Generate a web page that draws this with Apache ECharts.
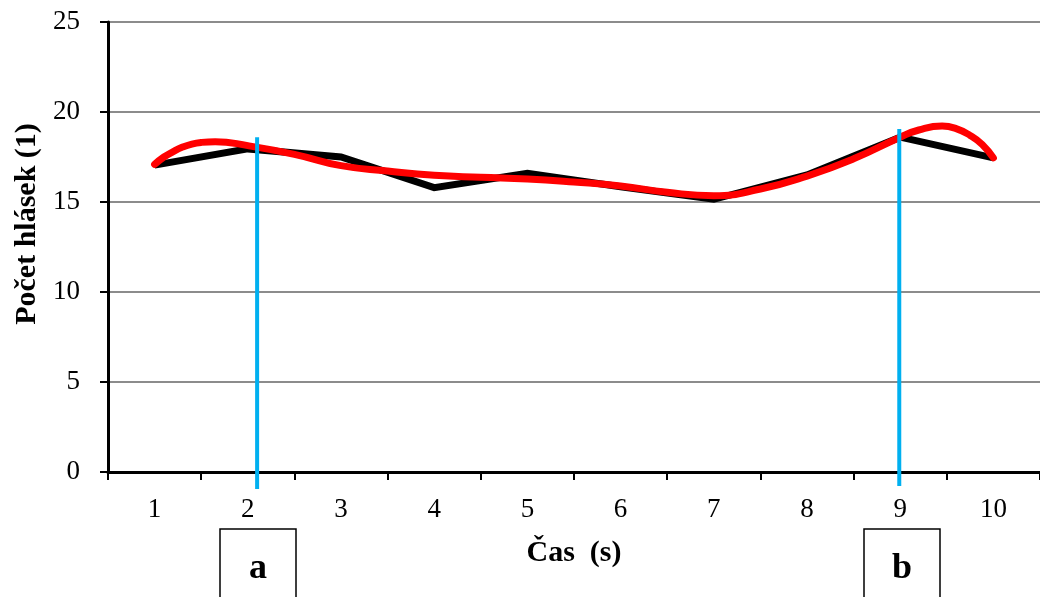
<!DOCTYPE html>
<html>
<head>
<meta charset="utf-8">
<script src="https://cdn.jsdelivr.net/npm/echarts@6/dist/echarts.min.js"></script>
<style>
html,body{margin:0;padding:0;background:#fff;}
#chart{width:1040px;height:597px;}
</style>
</head>
<body>
<div id="chart"></div>
<script>
// ---- data ----
const categories = ['1','2','3','4','5','6','7','8','9','10'];
const blackValues = [17.05, 17.95, 17.5, 15.8, 16.6, 15.85, 15.15, 16.5, 18.6, 17.45];
// smoothed red curve (x in category units)
const redX = [1, 1.1, 1.2, 1.3, 1.4, 1.5, 1.65, 2, 2.5, 3, 3.5, 4, 4.5, 5, 5.5, 6, 6.5, 7, 7.5, 8, 8.5, 9, 9.2, 9.45, 9.6, 9.75, 9.88, 10];
const redY = [17.09, 17.5, 17.8, 18.05, 18.22, 18.31, 18.35, 18.13, 17.65, 17.02, 16.72, 16.48, 16.37, 16.28, 16.11, 15.89, 15.54, 15.35, 15.72, 16.44, 17.4, 18.6, 19.0, 19.22, 19.08, 18.7, 18.2, 17.45];
// vertical blue markers
const markerX = [2.1, 8.99];
const markerTop = [18.6, 19.05];
const markerBottom = [-0.95, -0.78];
const markerLabels = ['a', 'b'];
const yTicks = [0, 5, 10, 15, 20, 25];
const yName = 'Počet hlásek (1)';
const xName = 'Čas  (s)';

const chart = echarts.init(document.getElementById('chart'), null, {renderer: 'canvas'});
const serif = '"Liberation Serif", "Times New Roman", serif';

const series = [
  {
    type: 'line', xAxisIndex: 0, data: blackValues,
    showSymbol: false, symbol: 'none',
    lineStyle: {color: '#000', width: 7, join: 'miter'},
    z: 2, animation: false
  },
  {
    type: 'line', xAxisIndex: 1, data: redX.map((x, i) => [x, redY[i]]),
    showSymbol: false, symbol: 'none', smooth: 0.5,
    lineStyle: {color: '#ff0000', width: 7, cap: 'round', join: 'round'},
    z: 3, animation: false
  }
];
markerX.forEach((x, i) => {
  series.push({
    type: 'line', xAxisIndex: 1, data: [[x, markerTop[i]], [x, markerBottom[i]]],
    showSymbol: false, symbol: 'none', clip: false,
    lineStyle: {color: '#00b0f0', width: 4},
    z: 4, animation: false
  });
});

const boxCenters = [258, 902];
const graphic = [];
boxCenters.forEach((cx, i) => {
  graphic.push({
    type: 'rect', shape: {x: cx - 38, y: 529, width: 76, height: 90},
    style: {fill: '#fff', stroke: '#000', lineWidth: 1.5}, z: 10
  });
  graphic.push({
    type: 'text', x: cx, y: 569,
    style: {text: markerLabels[i], font: 'bold 36px ' + serif, fill: '#000', align: 'center', verticalAlign: 'middle'},
    z: 11
  });
});
graphic.push({
  type: 'text', x: 27, y: 224, rotation: Math.PI / 2,
  style: {text: yName, font: 'bold 30px ' + serif, fill: '#000', align: 'center', verticalAlign: 'middle'},
  z: 11
});

chart.setOption({
  animation: false,
  backgroundColor: '#fff',
  grid: {left: 108, top: 22, width: 936, height: 450, containLabel: false},
  xAxis: [
    {
      type: 'category', data: categories, boundaryGap: true,
      name: xName, nameLocation: 'middle', nameGap: 66,
      nameTextStyle: {fontFamily: serif, fontWeight: 'bold', fontSize: 30, color: '#000'},
      axisLine: {show: true, lineStyle: {color: '#000', width: 3}},
      axisTick: {show: true, length: 8, lineStyle: {color: '#000', width: 2}},
      axisLabel: {fontFamily: serif, fontSize: 27, color: '#000', margin: 24},
      splitLine: {show: false}
    },
    {
      type: 'value', min: 0.5, max: 10.5, show: false
    }
  ],
  yAxis: {
    type: 'value', min: 0, max: 25, interval: 5,
    axisLine: {show: true, lineStyle: {color: '#000', width: 3}},
    axisTick: {show: true, length: 8, lineStyle: {color: '#000', width: 2}},
    axisLabel: {fontFamily: serif, fontSize: 27, color: '#000', margin: 28,
      formatter: v => yTicks.indexOf(v) >= 0 ? String(v) : ''},
    splitLine: {show: true, lineStyle: {color: '#8c8c8c', width: 2}}
  },
  series: series,
  graphic: graphic
});
</script>
</body>
</html>
